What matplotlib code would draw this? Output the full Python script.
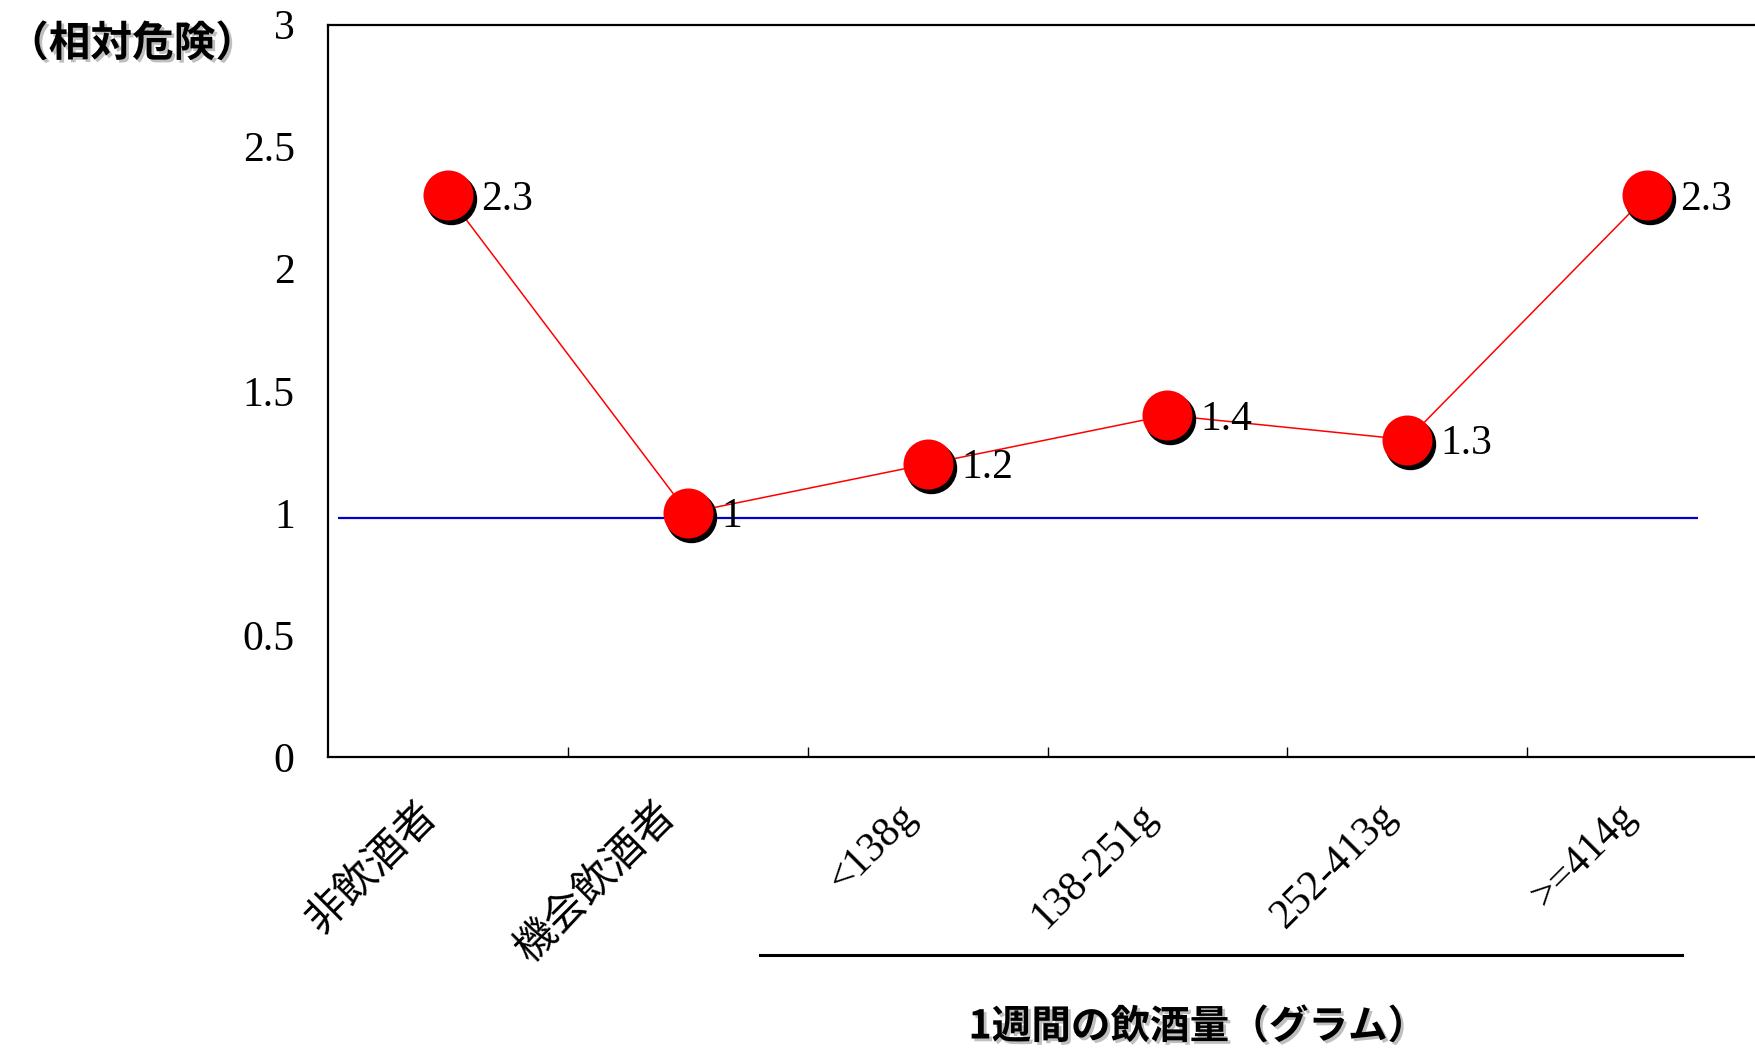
import matplotlib
matplotlib.use("Agg")
import matplotlib.pyplot as plt
import matplotlib.patheffects as pe
import matplotlib.transforms as mtransforms
import numpy as np

# data
categories = ["非飲酒者", "機会飲酒者", "<138g", "138-251g", "252-413g", ">=414g"]
relative_risk = [2.3, 1.0, 1.2, 1.4, 1.3, 2.3]
value_labels = ["2.3", "1", "1.2", "1.4", "1.3", "2.3"]
y_ticks = [0, 0.5, 1, 1.5, 2, 2.5, 3]
y_tick_labels = ["0", "0.5", "1", "1.5", "2", "2.5", "3"]
reference_level = 0.98
ylabel_text = "（相対危険）"
xlabel_text = "1週間の飲酒量（グラム）"

serif = ["Liberation Serif", "Noto Sans CJK JP"]
sans_jp = ["Noto Sans CJK JP", "DejaVu Sans"]

fig = plt.figure(figsize=(17.56, 10.51), dpi=100)
ax = fig.add_axes([0.1868, 0.2797, 0.8195, 0.6969])

x = np.arange(len(categories))

# reference line
ax.hlines(reference_level, -0.46, 5.21, color="#0000cc", lw=1.6, zorder=2)

# connecting line
ax.plot(x, relative_risk, color="red", lw=1.1, zorder=3)

# marker shadow + markers
shadow = mtransforms.offset_copy(ax.transData, fig=fig, x=3, y=-4, units="dots")
ax.plot(x, relative_risk, "o", ms=36, color="black", transform=shadow, zorder=4, clip_on=False)
ax.plot(x, relative_risk, "o", ms=36, color="red", mec="none", zorder=5, clip_on=False)

for xi, yi, lab in zip(x, relative_risk, value_labels):
    ax.annotate(lab, (xi, yi), xytext=(24, -3), textcoords="offset points",
                ha="left", va="center", fontsize=30, family=serif, zorder=6)

ax.set_xlim(-0.5, 5.5)
ax.set_ylim(0, 3)
ax.set_yticks(y_ticks)
ax.set_yticklabels(y_tick_labels, family=serif, fontsize=30)
ax.tick_params(axis="y", length=0, pad=24)

# category boundary ticks, labels at centres
ax.set_xticks(np.arange(0.5, len(categories) - 0.5, 1.0))
ax.set_xticklabels([])
ax.tick_params(axis="x", direction="in", length=7, width=1, color="black")
for xi, lab in zip(x, categories):
    ax.annotate(lab, (xi, 0), xytext=(-22, -28), textcoords="offset points",
                rotation=45, rotation_mode="anchor", ha="right", va="top",
                fontsize=30, family=serif, annotation_clip=False)

for s in ["left", "bottom", "top", "right"]:
    ax.spines[s].set_linewidth(1.6)

shadow_fx = [pe.withSimplePatchShadow(offset=(2, -2), shadow_rgbFace="gray", alpha=0.5)]

fig.text(0.004, 0.958, ylabel_text, fontsize=30, fontweight="bold", family=sans_jp,
         ha="left", va="center", path_effects=shadow_fx)

# grouping line under the gram categories
fig.add_artist(plt.Line2D([760 / 1756, 1682 / 1756], [1 - 955 / 1051] * 2,
                          color="black", lw=2.2))
fig.text(1198 / 1756, 1 - 1027 / 1051, xlabel_text, fontsize=28.5, fontweight="bold",
         family=sans_jp, ha="center", va="center", path_effects=shadow_fx)

fig.savefig("out.png", dpi=100)
